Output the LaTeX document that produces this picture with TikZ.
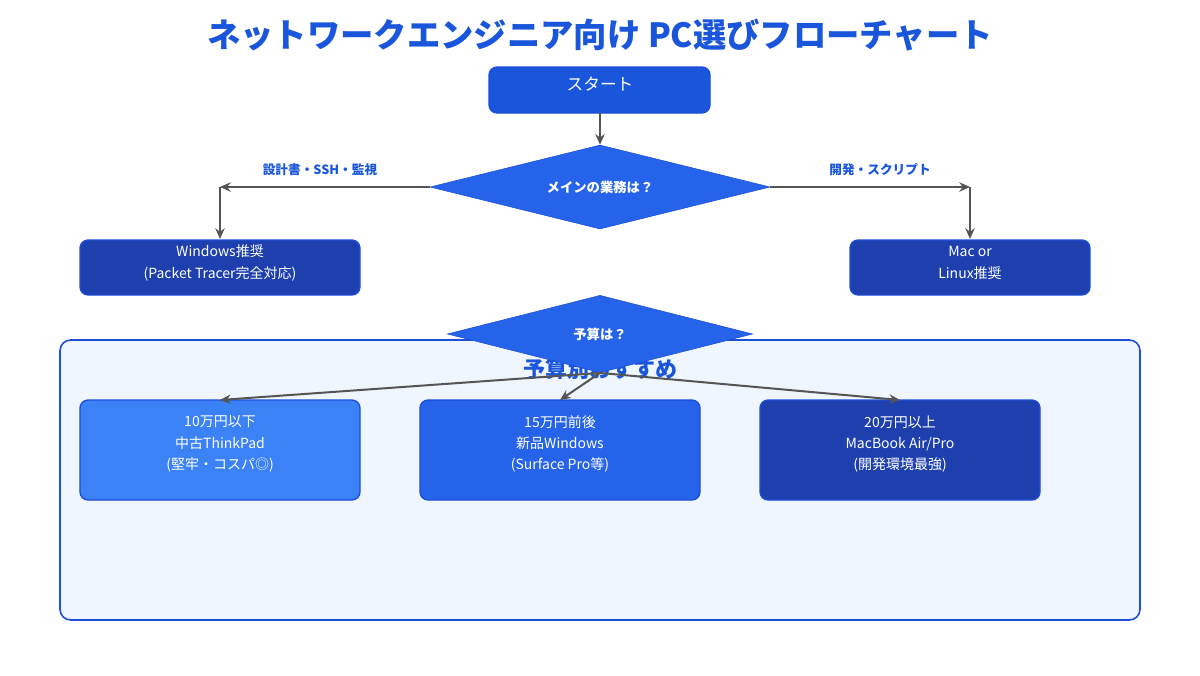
\documentclass[tikz,border=0pt]{standalone}
\usepackage{fontspec}
\setmainfont{Noto Sans CJK JP}
\usetikzlibrary{shapes.geometric,arrows.meta}
\definecolor{tblue}{HTML}{1A56DB}
\definecolor{b1}{HTML}{3B82F6}
\definecolor{b2}{HTML}{2563EB}
\definecolor{b3}{HTML}{1E40AF}
\definecolor{edge}{HTML}{1D4ED8}
\definecolor{lbg}{HTML}{EFF6FF}
\definecolor{arr}{HTML}{555555}
\begin{document}
\begin{tikzpicture}[x=0.75pt,y=-0.75pt,
  box/.style={draw=edge,line width=1pt,rounded corners=6pt},
  btxt/.style={text=white,font=\fontsize{10.5}{16}\selectfont,align=center},
  dia/.style={diamond,aspect=4,draw=edge,fill=b2,text=white,font=\bfseries\fontsize{10}{12}\selectfont,inner sep=0pt},
  ar/.style={draw=arr,line width=1.5pt,-{Stealth[length=8pt,width=7pt]}},
  lab/.style={text=tblue,font=\bfseries\fontsize{9.5}{12}\selectfont}]
\useasboundingbox (0,0) rectangle (1200,675);
\fill[white] (0,0) rectangle (1200,675);
\node[text=tblue,font=\bfseries\fontsize{25}{30}\selectfont] (title) at (600,35) {ネットワークエンジニア向け PC選びフローチャート};
\draw[box,fill=tblue] (489,67) rectangle (710,113);
\node[text=white,font=\fontsize{12.5}{15}\selectfont] (start) at (600,84) {スタート};
\coordinate (startb) at (600,113);
\node[dia,minimum width=255pt,minimum height=63pt] (d1) at (600,187) {メインの業務は？};
\draw[ar] (startb) -- (d1.north);
\draw[box,fill=b3] (80,240) rectangle (360,295);
\node[btxt] (win) at (220,263) {Windows推奨\\(Packet Tracer完全対応)};
\draw[box,fill=b3] (850,240) rectangle (1090,295);
\node[btxt] (mac) at (970,263) {Mac or\\Linux推奨};
\coordinate (cl) at (220,187); \coordinate (cr) at (970,187);
\coordinate (wt) at (220,239); \coordinate (mt) at (970,239);
\draw[ar] (d1.west) -- (cl);
\draw[ar] (cl) -- (wt);
\draw[ar] (d1.east) -- (cr);
\draw[ar] (cr) -- (mt);
\node[lab] at (320,170) {設計書・SSH・監視};
\node[lab] at (880,170) {開発・スクリプト};
\draw[draw=edge,line width=1.2pt,fill=lbg,rounded corners=8pt] (60,340) rectangle (1140,620);
\node[text=tblue,font=\bfseries\fontsize{16.5}{20}\selectfont] (grp) at (600,369) {予算別おすすめ};
\node[dia,minimum width=229pt,minimum height=58pt] (d2) at (600,334) {予算は？};
\draw[box,fill=b1] (80,400) rectangle (360,500);
\draw[box,fill=b2] (420,400) rectangle (700,500);
\draw[box,fill=b3] (760,400) rectangle (1040,500);
\node[btxt] (p1) at (220,444) {10万円以下\\中古ThinkPad\\(堅牢・コスパ◎)};
\node[btxt] (p2) at (560,444) {15万円前後\\新品Windows\\(Surface Pro等)};
\node[btxt] (p3) at (900,444) {20万円以上\\MacBook Air/Pro\\(開発環境最強)};
\coordinate (t1) at (220,400); \coordinate (t2) at (560,400); \coordinate (t3) at (900,400);
\draw[ar] (d2.south) -- (t1);
\draw[ar] (d2.south) -- (t2);
\draw[ar] (d2.south) -- (t3);
\end{tikzpicture}
\end{document}
